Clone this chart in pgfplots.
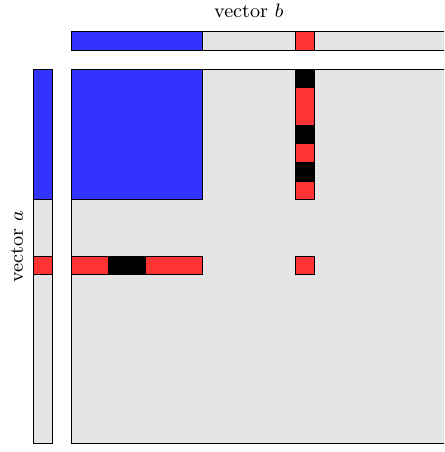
\documentclass[border=0pt]{standalone}
\usepackage{pgfplots}
\pgfplotsset{compat=1.18}
\definecolor{cblue}{RGB}{51,51,255}
\definecolor{cred}{RGB}{255,51,51}
\definecolor{cgray}{RGB}{229,229,229}
\begin{document}
\begin{tikzpicture}
\begin{axis}[
  name=main,
  scale only axis, width=205.7pt, height=209.3pt,
  xmin=-3.8, xmax=19.95, ymin=-3.69, ymax=20.48,
  y dir=reverse, hide axis, clip=true,
  every axis plot/.append style={no markers, line width=0.4pt, draw=black},
]
% matrix background
\addplot[fill=cgray] coordinates {(0,0) (20,0) (20,20) (0,20)} -- cycle;
% blue block
\addplot[fill=cblue] coordinates {(0,0) (7,0) (7,7) (0,7)} -- cycle;
% column 12
\addplot[fill=black] coordinates {(12,0) (13,0) (13,1) (12,1)} -- cycle;
\addplot[fill=cred] coordinates {(12,1) (13,1) (13,3) (12,3)} -- cycle;
\addplot[fill=black] coordinates {(12,3) (13,3) (13,4) (12,4)} -- cycle;
\addplot[fill=cred] coordinates {(12,4) (13,4) (13,5) (12,5)} -- cycle;
\addplot[fill=black] coordinates {(12,5) (13,5) (13,6) (12,6)} -- cycle;
\addplot[fill=cred] coordinates {(12,6) (13,6) (13,7) (12,7)} -- cycle;
% row 10
\addplot[fill=cred] coordinates {(0,10) (2,10) (2,11) (0,11)} -- cycle;
\addplot[fill=black] coordinates {(2,10) (4,10) (4,11) (2,11)} -- cycle;
\addplot[fill=cred] coordinates {(4,10) (7,10) (7,11) (4,11)} -- cycle;
% cell (10,12)
\addplot[fill=cred] coordinates {(12,10) (13,10) (13,11) (12,11)} -- cycle;
% vector b
\addplot[fill=cgray] coordinates {(0,-2) (20,-2) (20,-1) (0,-1)} -- cycle;
\addplot[fill=cblue] coordinates {(0,-2) (7,-2) (7,-1) (0,-1)} -- cycle;
\addplot[fill=cred] coordinates {(12,-2) (13,-2) (13,-1) (12,-1)} -- cycle;
% vector a
\addplot[fill=cgray] coordinates {(-2,0) (-1,0) (-1,20) (-2,20)} -- cycle;
\addplot[fill=cblue] coordinates {(-2,0) (-1,0) (-1,7) (-2,7)} -- cycle;
\addplot[fill=cred] coordinates {(-2,10) (-1,10) (-1,11) (-2,11)} -- cycle;
\node[font=\fontsize{9.1}{11}\selectfont] at (axis cs:9.5,-3.1) {vector $b$};
\node[rotate=90, font=\fontsize{9.1}{11}\selectfont] at (axis cs:-2.9,9.5) {vector $a$};
\end{axis}
\pgfresetboundingbox
\useasboundingbox (main.south west) rectangle (main.north east);
\end{tikzpicture}
\end{document}
